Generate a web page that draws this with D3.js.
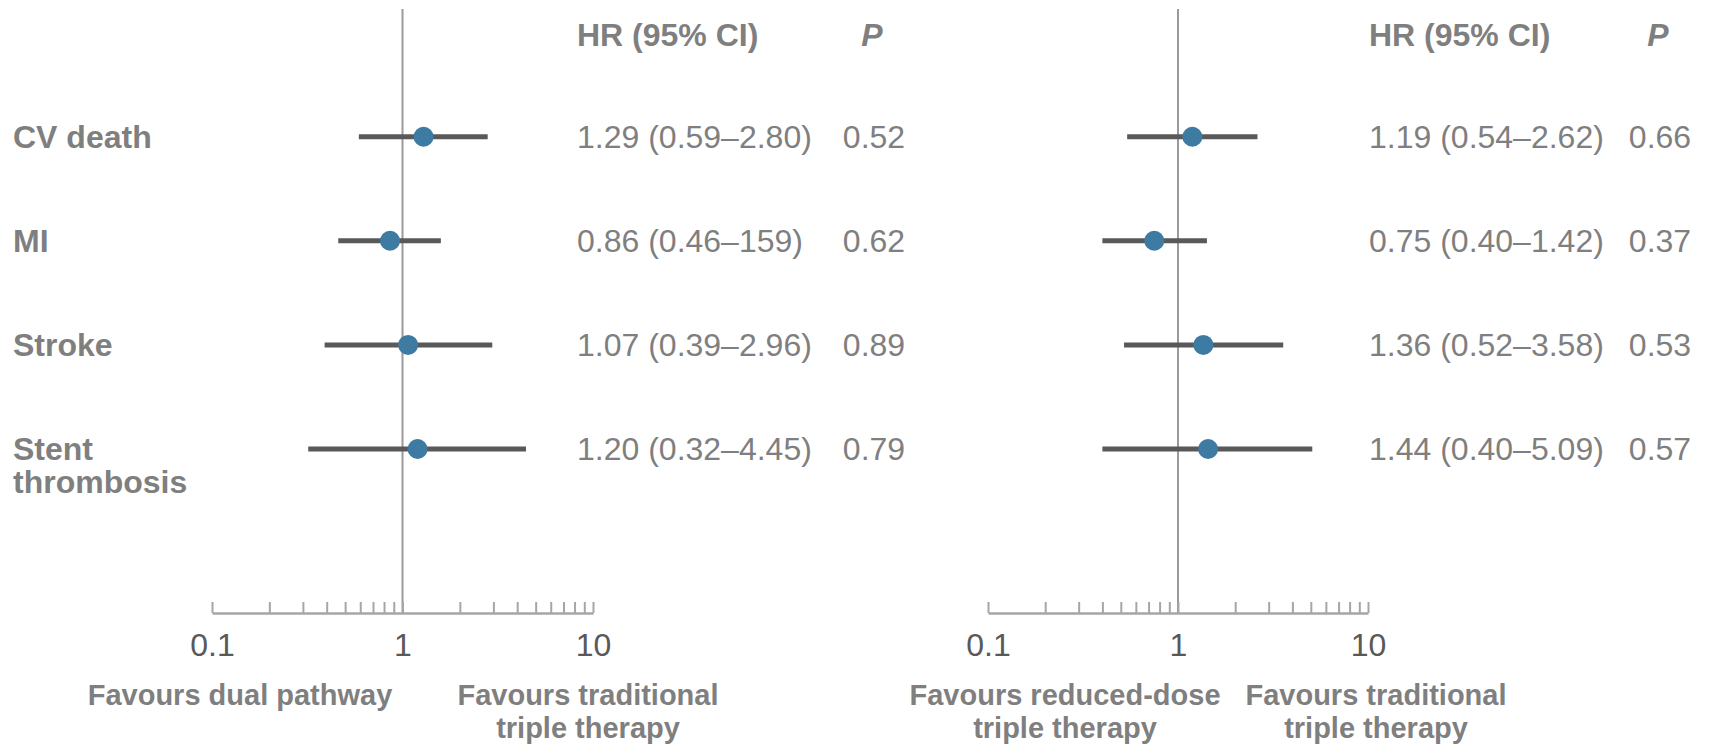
<!DOCTYPE html>
<html>
<head>
<meta charset="utf-8">
<script src="https://cdn.jsdelivr.net/npm/d3@7"></script>
<style>
  body { margin: 0; background: #fff; }
  svg text { font-family: "Liberation Sans", Arial, sans-serif; }
</style>
</head>
<body>
<svg id="chart" width="1716" height="744"></svg>
<script>
// outcomes (rows)
const outcomes = ["CV death", "MI", "Stroke", "Stent thrombosis"];

// dual pathway vs traditional triple therapy
const hrDual = [1.29, 0.86, 1.07, 1.20];
const loDual = [0.59, 0.46, 0.39, 0.32];
const hiDual = [2.80, 1.59, 2.96, 4.45];
const ciTextDual = ["1.29 (0.59–2.80)", "0.86 (0.46–159)", "1.07 (0.39–2.96)", "1.20 (0.32–4.45)"];
const pDual = ["0.52", "0.62", "0.89", "0.79"];

// reduced-dose vs traditional triple therapy
const hrReduced = [1.19, 0.75, 1.36, 1.44];
const loReduced = [0.54, 0.40, 0.52, 0.40];
const hiReduced = [2.62, 1.42, 3.58, 5.09];
const ciTextReduced = ["1.19 (0.54–2.62)", "0.75 (0.40–1.42)", "1.36 (0.52–3.58)", "1.44 (0.40–5.09)"];
const pReduced = ["0.66", "0.37", "0.53", "0.57"];

const tickValues = [0.1, 0.2, 0.3, 0.4, 0.5, 0.6, 0.7, 0.8, 0.9, 1, 2, 3, 4, 5, 6, 7, 8, 9, 10];
const tickLabels = {0.1: "0.1", 1: "1", 10: "10"};

const favoursLeftDual = ["Favours dual pathway"];
const favoursLeftReduced = ["Favours reduced-dose", "triple therapy"];
const favoursRight = ["Favours traditional", "triple therapy"];

const svg = d3.select("#chart");
const grey = "#7f7f7f";
const axisY = 613;
const fs = 32;

const y = d3.scalePoint().domain(outcomes).range([136.7, 449]);

// row labels
outcomes.forEach(name => {
  const words = name === "Stent thrombosis" ? ["Stent", "thrombosis"] : [name];
  const t = svg.append("text")
    .attr("x", 13)
    .attr("y", y(name) + 11)
    .attr("fill", grey)
    .attr("font-size", fs)
    .attr("font-weight", "bold");
  words.forEach((w, i) => {
    t.append("tspan").attr("x", 13).attr("dy", i === 0 ? 0 : 33).text(w);
  });
});

function drawPanel(opts) {
  const x = d3.scaleLog().domain([0.1, 10]).range(opts.range);
  const g = svg.append("g");

  // reference line at 1
  g.append("line")
    .attr("x1", x(1)).attr("x2", x(1))
    .attr("y1", 9).attr("y2", axisY)
    .attr("stroke", "#9a9a9a")
    .attr("stroke-width", 2);

  // axis
  const axis = d3.axisBottom(x)
    .tickValues(tickValues)
    .tickSizeInner(-11)
    .tickSizeOuter(0)
    .tickPadding(0)
    .tickFormat(d => tickLabels[d] || "");
  const ax = g.append("g")
    .attr("transform", `translate(0,${axisY})`)
    .call(axis);
  ax.select(".domain").attr("stroke", "#a6a6a6").attr("stroke-width", 2.5);
  ax.selectAll(".tick line").attr("stroke", "#a6a6a6").attr("stroke-width", 2);
  ax.selectAll(".tick text")
    .attr("y", 43)
    .attr("dy", 0)
    .attr("fill", "#595959")
    .attr("font-size", fs)
    .attr("font-family", "'Liberation Sans', Arial, sans-serif");

  const rows = outcomes.map((name, i) => ({
    name, hr: opts.hr[i], lo: opts.lo[i], hi: opts.hi[i], ci: opts.ciText[i], p: opts.p[i]
  }));

  // CI lines
  g.selectAll(".ci")
    .data(rows)
    .join("line")
    .attr("class", "ci")
    .attr("x1", d => x(d.lo)).attr("x2", d => x(d.hi))
    .attr("y1", d => y(d.name)).attr("y2", d => y(d.name))
    .attr("stroke", "#595959")
    .attr("stroke-width", 5);

  // point estimates
  g.selectAll(".pt")
    .data(rows)
    .join("circle")
    .attr("class", "pt")
    .attr("cx", d => x(d.hr))
    .attr("cy", d => y(d.name))
    .attr("r", 10)
    .attr("fill", "#3d7ba2");

  // headers
  g.append("text")
    .attr("x", opts.ciX).attr("y", 46)
    .attr("fill", grey).attr("font-size", fs).attr("font-weight", "bold")
    .text("HR (95% CI)");
  g.append("text")
    .attr("x", opts.pX - 2).attr("y", 46)
    .attr("text-anchor", "middle")
    .attr("fill", grey).attr("font-size", fs).attr("font-weight", "bold")
    .attr("font-style", "italic")
    .text("P");

  // values
  g.selectAll(".citext")
    .data(rows)
    .join("text")
    .attr("class", "citext")
    .attr("x", opts.ciX)
    .attr("y", d => y(d.name) + 11)
    .attr("fill", grey).attr("font-size", fs)
    .text(d => d.ci);
  g.selectAll(".ptext")
    .data(rows)
    .join("text")
    .attr("class", "ptext")
    .attr("x", opts.pX)
    .attr("y", d => y(d.name) + 11)
    .attr("text-anchor", "middle")
    .attr("fill", grey).attr("font-size", fs)
    .text(d => d.p);

  // favours labels
  [[opts.favoursLeft, opts.favLeftX], [favoursRight, opts.favRightX]].forEach(([lines, cx]) => {
    const t = g.append("text")
      .attr("x", cx).attr("y", 705)
      .attr("text-anchor", "middle")
      .attr("fill", grey).attr("font-size", 29).attr("font-weight", "bold");
    lines.forEach((l, i) => {
      t.append("tspan").attr("x", cx).attr("dy", i === 0 ? 0 : 33).text(l);
    });
  });
}

drawPanel({
  range: [212, 593],
  hr: hrDual, lo: loDual, hi: hiDual, ciText: ciTextDual, p: pDual,
  ciX: 577, pX: 874,
  favoursLeft: favoursLeftDual, favLeftX: 240, favRightX: 588
});

drawPanel({
  range: [988, 1368],
  hr: hrReduced, lo: loReduced, hi: hiReduced, ciText: ciTextReduced, p: pReduced,
  ciX: 1369, pX: 1660,
  favoursLeft: favoursLeftReduced, favLeftX: 1065, favRightX: 1376
});
</script>
</body>
</html>
